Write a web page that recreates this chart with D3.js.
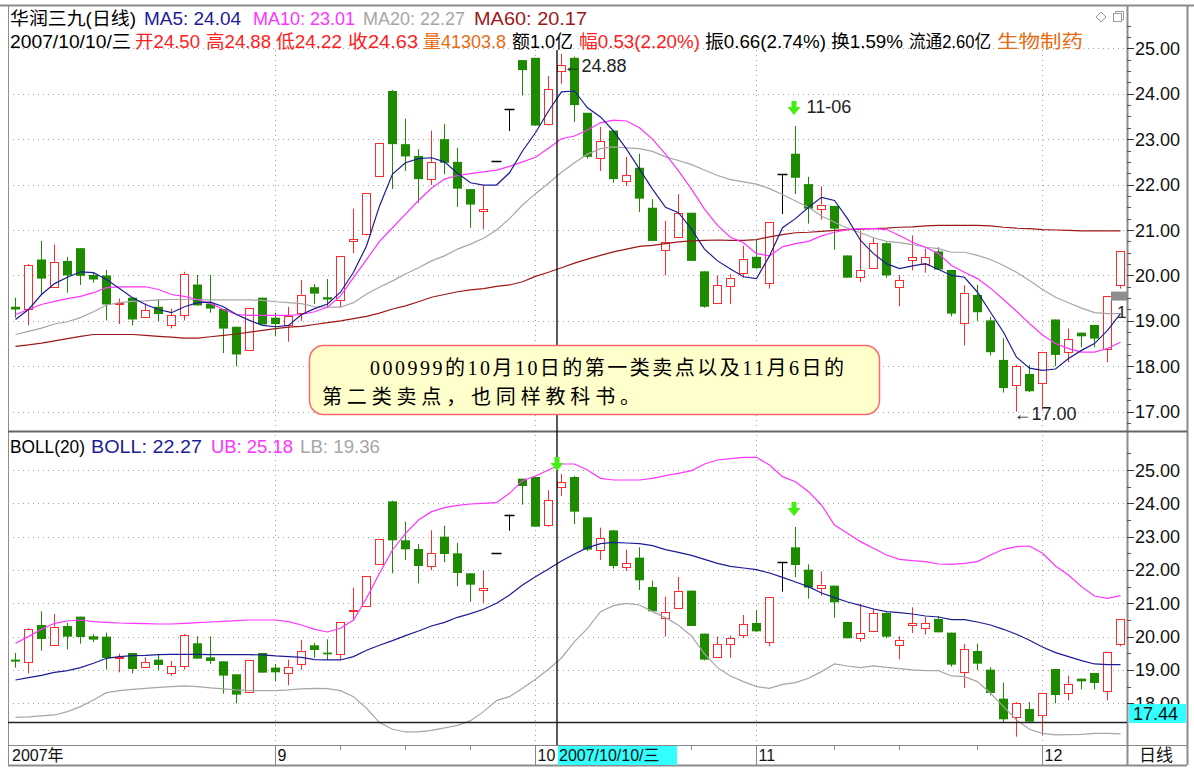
<!DOCTYPE html>
<html><head><meta charset="utf-8">
<script src="https://cdn.jsdelivr.net/npm/d3@7/dist/d3.min.js"></script>
<style>
body{margin:0;background:#fff;}
svg{display:block;font-family:"Liberation Sans",Arial,"Noto Sans CJK SC",sans-serif;}
</style>
</head><body>
<svg id="c" width="1194" height="774"></svg>
<script>
// ---------------- DATA ----------------
const openP  = [19.31,19.25,20.35,19.75,20.32,20.60,20.01,20.00,19.38,19.51,19.09,19.31,18.90,19.12,19.80,19.38,19.26,18.87,18.35,19.51,
                19.07,18.90,19.17,19.74,19.52,19.47,20.76,20.91,22.19,24.06,22.89,22.63,22.12,23.00,22.50,21.90,21.41,22.52,23.66,24.74,
                24.79,23.34,24.50,24.79,23.58,22.59,23.19,22.08,22.37,21.49,20.56,20.85,21.38,20.09,19.39,19.77,20.06,20.41,19.84,22.23,
                22.68,22.01,21.47,21.53,20.44,19.96,20.17,20.71,19.74,20.35,20.26,20.53,20.12,18.95,19.57,19.01,18.14,17.59,17.83,17.64,
                19.03,18.31,18.74,18.91,18.37,19.79];
const highP  = [19.51,20.25,20.76,20.68,20.41,20.60,20.07,20.12,19.49,19.51,19.38,19.47,19.27,20.08,20.01,20.01,19.26,18.87,19.29,19.51,
                19.18,19.31,19.90,19.81,19.92,20.43,21.47,21.82,22.92,24.08,23.45,22.78,23.19,23.33,22.81,21.90,21.99,22.52,23.66,24.74,
                24.79,24.39,24.88,24.82,23.58,23.27,23.19,22.61,22.68,21.68,21.20,21.79,21.38,20.09,20.00,20.03,20.65,20.80,21.18,22.23,
                23.29,22.17,21.96,21.53,20.44,20.99,20.84,20.73,20.01,20.88,20.59,20.62,20.12,19.78,19.79,19.08,18.62,18.03,18.03,18.31,
                19.03,18.83,18.74,18.91,19.55,20.53];
const lowP   = [19.07,18.90,19.58,19.73,19.62,19.79,19.84,19.01,18.93,18.90,19.07,18.99,18.83,19.01,19.34,19.18,18.29,18.00,18.35,18.92,
                18.66,18.54,19.00,19.37,19.30,19.30,20.49,20.88,22.17,21.90,22.30,21.60,21.99,22.23,21.51,21.05,21.02,22.52,23.18,23.96,
                23.30,23.30,24.22,23.38,22.57,22.30,22.04,21.97,21.40,20.76,20.00,20.83,20.32,19.29,19.37,19.37,19.95,20.14,19.71,21.35,
                21.79,21.14,21.23,20.57,19.95,19.85,20.15,19.95,19.32,20.11,20.06,20.13,19.10,18.46,19.00,18.24,17.42,17.00,17.43,17.05,
                18.00,18.09,18.42,18.42,18.09,19.71];
const closeP = [19.25,20.22,19.93,20.30,20.00,19.99,19.91,19.36,19.40,19.03,19.24,19.15,19.12,20.04,19.34,19.27,18.83,18.26,19.29,18.92,
                18.93,19.10,19.58,19.60,19.47,20.43,20.80,21.82,22.92,22.89,22.62,22.12,22.50,22.48,21.91,21.56,21.46,22.52,23.66,24.52,
                23.30,24.10,24.63,23.75,22.61,22.96,22.12,22.20,21.69,20.76,20.74,21.38,20.32,19.31,19.78,19.95,20.37,20.16,21.18,22.23,
                22.15,21.47,21.56,21.03,19.95,20.11,20.71,20.00,19.89,20.40,20.40,20.13,19.16,19.62,19.19,18.31,17.52,18.00,17.45,18.31,
                18.25,18.59,18.66,18.61,19.55,20.53];
const ma5  = [19.03,19.25,19.58,19.82,19.96,20.08,20.06,19.91,19.71,19.51,19.36,19.25,19.18,19.31,19.40,19.41,19.31,19.14,19.01,18.90,
              18.87,18.90,19.14,19.27,19.37,19.63,20.07,20.65,21.53,22.23,22.48,22.57,22.59,22.50,22.25,22.04,21.99,21.99,22.26,22.74,
              23.14,23.62,24.04,24.06,23.69,23.49,23.18,22.78,22.34,21.90,21.50,21.38,21.02,20.58,20.32,20.14,19.97,19.93,20.43,21.05,
              21.25,21.50,21.72,21.65,21.25,20.77,20.48,20.26,20.15,20.21,20.26,20.13,20.00,19.96,19.63,19.19,18.75,18.20,17.96,17.91,
              17.94,18.17,18.35,18.50,18.79,19.16];
const ma10 = [19.14,19.25,19.36,19.43,19.49,19.54,19.62,19.73,19.75,19.75,19.75,19.69,19.58,19.54,19.47,19.38,19.25,19.14,19.12,19.12,
              19.12,19.12,19.14,19.20,19.30,19.55,19.95,20.35,20.75,21.05,21.35,21.65,21.92,22.12,22.20,22.24,22.28,22.32,22.40,22.50,
              22.60,22.80,23.01,23.07,23.20,23.36,23.42,23.40,23.25,23.00,22.67,22.30,21.90,21.46,21.10,20.84,20.72,20.48,20.43,20.63,
              20.70,20.75,20.87,20.95,21.01,21.03,21.03,21.01,20.88,20.73,20.62,20.48,20.22,20.07,19.93,19.72,19.47,19.21,18.94,18.69,
              18.50,18.39,18.31,18.31,18.39,18.53];
const ma20 = [18.70,18.77,18.84,18.93,18.98,19.07,19.20,19.35,19.40,19.43,19.44,19.46,19.47,19.47,19.47,19.46,19.46,19.46,19.46,19.45,
              19.42,19.40,19.38,19.31,19.30,19.30,19.40,19.59,19.74,19.88,20.03,20.17,20.32,20.43,20.58,20.69,20.82,21.00,21.25,21.55,
              21.80,22.03,22.27,22.48,22.67,22.79,22.83,22.81,22.79,22.73,22.61,22.53,22.44,22.32,22.20,22.11,22.06,22.01,21.91,21.78,
              21.64,21.50,21.31,21.17,21.04,20.94,20.83,20.75,20.72,20.68,20.62,20.59,20.51,20.51,20.44,20.35,20.22,20.07,19.89,19.69,
              19.52,19.40,19.28,19.18,19.16,19.16];
const ma60 = [18.44,18.47,18.51,18.56,18.61,18.66,18.70,18.70,18.70,18.70,18.68,18.66,18.64,18.62,18.62,18.65,18.68,18.71,18.75,18.79,
              18.83,18.86,18.88,18.92,18.96,19.00,19.05,19.10,19.17,19.26,19.33,19.42,19.52,19.58,19.64,19.68,19.71,19.76,19.79,19.86,
              19.98,20.07,20.17,20.27,20.36,20.44,20.52,20.58,20.64,20.66,20.70,20.74,20.76,20.77,20.78,20.77,20.77,20.79,20.85,20.90,
              20.94,20.95,20.97,20.99,21.01,21.02,21.03,21.04,21.06,21.07,21.09,21.10,21.10,21.10,21.10,21.09,21.06,21.04,21.03,21.01,
              21.00,20.99,20.98,20.98,20.98,20.98];
const bollMid = ma20;
const bollUB = [19.80,20.00,20.22,20.40,20.47,20.50,20.45,20.43,20.41,20.40,20.39,20.38,20.38,20.40,20.42,20.44,20.46,20.48,20.50,20.50,
                20.50,20.45,20.35,20.22,20.14,20.25,20.50,21.15,21.90,22.60,23.10,23.50,23.75,23.87,23.94,23.98,24.00,24.02,24.30,24.68,
                24.82,25.00,25.18,25.18,25.00,24.75,24.70,24.70,24.70,24.75,24.83,24.90,24.98,25.18,25.30,25.34,25.38,25.38,25.15,24.80,
                24.65,24.35,23.95,23.35,23.10,22.85,22.65,22.45,22.32,22.28,22.25,22.18,22.17,22.20,22.25,22.45,22.62,22.70,22.72,22.50,
                22.12,21.85,21.50,21.22,21.15,21.23];
const bollLB = [17.58,17.59,17.62,17.65,17.75,17.90,18.10,18.32,18.38,18.42,18.45,18.48,18.50,18.52,18.50,18.46,18.43,18.40,18.38,18.38,
                18.38,18.40,18.43,18.45,18.44,18.38,18.20,17.85,17.42,17.22,17.14,17.14,17.19,17.26,17.34,17.48,17.75,18.08,18.20,18.45,
                18.72,19.02,19.36,19.85,20.25,20.75,20.93,21.00,20.95,20.75,20.57,20.34,20.02,19.48,19.07,18.82,18.65,18.50,18.45,18.57,
                18.62,18.75,18.95,19.18,19.12,19.07,19.12,19.08,19.04,19.00,18.98,18.98,18.82,18.80,18.65,18.30,17.90,17.50,17.22,17.10,
                17.05,17.06,17.07,17.10,17.10,17.08];
const monthLabels = ["2007年","9","10","11","12"];
const monthIdx    = [0,20,40,57,79];
const weekIdx     = [25,30,35,47,52,63,68,74];
const topTicks    = [17,18,19,20,21,22,23,24,25];
const botTicks    = [18,19,20,21,22,23,24,25];
const header1 = ["华润三九(日线)","MA5: 24.04","MA10: 23.01","MA20: 22.27","MA60: 20.17"];
const header2 = ["2007/10/10/三","开24.50","高24.88","低24.22","收24.63","量41303.8","额1.0亿","幅0.53(2.20%)","振0.66(2.74%)","换1.59%","流通2.60亿","生物制药"];
const header3 = ["BOLL(20)","BOLL: 22.27","UB: 25.18","LB: 19.36"];
const selIdx = 42, sellIdx = 60, lowIdx = 77;
const selDate = "2007/10/10/三", crossValue = 17.44;
const noteLines = ["000999的10月10日的第一类卖点以及11月6日的","第二类卖点，也同样教科书。"];

// ---------------- LAYOUT / STYLE ----------------
const N = closeP.length;
const L = 8, R = 1127, AX = 1187;
const topY0 = 6, topY1 = 431, botY1 = 745, axY1 = 765;
const C = {up:"#ff2a2a", down:"#1e8a00", flat:"#000", ma5:"#1c1c96", ma10:"#ff33ff", ma20:"#a6a6a6", ma60:"#9c1818",
           grid:"#a0a0a0", frame:"#8c8c8c", red:"#ff2020", orange:"#e86a10", arrow:"#44ee11"};
const h1x = [[10,136],[144,241],[253,355],[363,465],[474,587]], h1c = ["#000",C.ma5,C.ma10,C.ma20,C.ma60];
const h2x = [[10,131],[135,200],[206,271],[276,342],[348,418],[423,506],[512,573],[579,700],[705,826],[831,903],[909,991],[997,1083]];
const h2c = ["#000",C.red,C.red,C.red,C.red,C.orange,"#000",C.red,"#000","#000","#000",C.orange];
const h3x = [[10,85],[91,202],[211,293],[300,380]], h3c = ["#000",C.ma5,C.ma10,C.ma20];

const svg = d3.select("#c");
const x = d3.scaleBand().domain(d3.range(N)).range([L, L + 13*N]);
const xc = i => Math.round(x(i) + x.bandwidth()/2) + 0.5;
const yT = d3.scaleLinear().domain([17,25]).range([411.7,48.3]);
const yB = d3.scaleLinear().domain([18,25]).range([703.3,470]);

const defs = svg.append("defs");
defs.append("clipPath").attr("id","clipT").append("rect").attr("x",L).attr("y",topY0).attr("width",R-L).attr("height",topY1-topY0);
defs.append("clipPath").attr("id","clipB").append("rect").attr("x",L).attr("y",topY1+1).attr("width",R-L).attr("height",botY1-topY1-1);
defs.append("clipPath").attr("id","clipAxB").append("rect").attr("x",R).attr("y",topY1+1).attr("width",AX-R).attr("height",yB(crossValue)-18-topY1-1);

// frame
svg.append("line").attr("x1",0).attr("x2",1194).attr("y1",5.5).attr("y2",5.5).attr("stroke",C.frame).attr("stroke-width",2);
svg.append("line").attr("x1",L+0.5).attr("x2",L+0.5).attr("y1",5).attr("y2",axY1).attr("stroke",C.frame);
svg.append("line").attr("x1",R+0.5).attr("x2",R+0.5).attr("y1",5).attr("y2",axY1).attr("stroke",C.frame).attr("stroke-width",2);
svg.append("line").attr("x1",AX+0.5).attr("x2",AX+0.5).attr("y1",5).attr("y2",axY1).attr("stroke",C.frame).attr("stroke-width",2);
svg.append("line").attr("x1",L).attr("x2",AX).attr("y1",topY1+0.5).attr("y2",topY1+0.5).attr("stroke","#666").attr("stroke-width",2);
svg.append("line").attr("x1",L).attr("x2",AX).attr("y1",botY1+0.5).attr("y2",botY1+0.5).attr("stroke","#888");
svg.append("line").attr("x1",L).attr("x2",AX).attr("y1",axY1+0.5).attr("y2",axY1+0.5).attr("stroke",C.frame).attr("stroke-width",2);

// horizontal grid
function hgrid(ticks, y) {
  svg.append("g").selectAll("line").data(ticks).join("line")
    .attr("x1",L).attr("x2",R).attr("y1",d=>Math.round(y(d))+0.5).attr("y2",d=>Math.round(y(d))+0.5)
    .attr("stroke",C.grid).attr("stroke-dasharray","1,4");
}
hgrid(topTicks, yT);
hgrid(botTicks, yB);
// vertical month grid
svg.append("g").selectAll("line").data(monthIdx.slice(1)).join("line")
  .attr("x1",d=>xc(d)).attr("x2",d=>xc(d)).attr("y1",50).attr("y2",botY1)
  .attr("stroke",C.grid).attr("stroke-dasharray","1,4");

// right axes
function raxis(ticks, y, minorStep, lo, hi, clip) {
  const g = svg.append("g");
  if (clip) g.attr("clip-path",`url(#${clip})`);
  const minors = d3.range(lo, hi + 1e-9, minorStep);
  g.selectAll("line.mn").data(minors).join("line").attr("class","mn")
    .attr("x1",R).attr("x2",R+4).attr("y1",d=>Math.round(y(d))+0.5).attr("y2",d=>Math.round(y(d))+0.5).attr("stroke","#555");
  g.selectAll("line.mj").data(ticks).join("line").attr("class","mj")
    .attr("x1",R).attr("x2",R+7).attr("y1",d=>Math.round(y(d))+0.5).attr("y2",d=>Math.round(y(d))+0.5).attr("stroke","#333");
  g.selectAll("text").data(ticks).join("text")
    .attr("x",R+8).attr("y",d=>y(d)+6.5).attr("font-size",18).attr("fill","#111").text(d=>d.toFixed(2));
}
raxis(topTicks, yT, 0.25, 16.75, 25.5, null);
raxis(botTicks, yB, 0.5, 17.5, 25.5, "clipAxB");

// candles
function candles(y, clip) {
  const g = svg.append("g").attr("clip-path",`url(#${clip})`);
  d3.range(N).forEach(i => {
    const o=openP[i], c=closeP[i], h=highP[i], l=lowP[i], cx=xc(i);
    if (c > o) {
      g.append("line").attr("x1",cx).attr("x2",cx).attr("y1",y(h)).attr("y2",y(c)).attr("stroke",C.up);
      g.append("line").attr("x1",cx).attr("x2",cx).attr("y1",y(o)).attr("y2",y(l)).attr("stroke",C.up);
      g.append("rect").attr("x",cx-4).attr("y",Math.round(y(c))+0.5).attr("width",8)
        .attr("height",Math.max(1,Math.round(y(o))-Math.round(y(c)))).attr("fill","#fff").attr("stroke",C.up);
    } else if (c < o) {
      g.append("line").attr("x1",cx).attr("x2",cx).attr("y1",y(h)).attr("y2",y(l)).attr("stroke",C.down);
      g.append("rect").attr("x",cx-4.5).attr("y",y(o)).attr("width",9)
        .attr("height",Math.max(1.5,y(c)-y(o))).attr("fill",C.down);
    } else {
      g.append("line").attr("x1",cx).attr("x2",cx).attr("y1",y(h)).attr("y2",y(l)).attr("stroke",C.flat);
      g.append("line").attr("x1",cx-5).attr("x2",cx+5).attr("y1",Math.round(y(o))+0.5).attr("y2",Math.round(y(o))+0.5).attr("stroke",C.flat).attr("stroke-width",1.5);
    }
  });
}
function lines(series, colors, y, clip) {
  const g = svg.append("g").attr("clip-path",`url(#${clip})`);
  series.forEach((s,k) => {
    g.append("path").datum(s).attr("fill","none").attr("stroke",colors[k]).attr("stroke-width",1.2)
      .attr("d", d3.line().x((d,i)=>xc(i)).y(d=>y(d)));
  });
}
candles(yT,"clipT");
lines([ma60,ma20,ma10,ma5],[C.ma60,C.ma20,C.ma10,C.ma5], yT, "clipT");
candles(yB,"clipB");
lines([bollLB,bollUB,bollMid],[C.ma20,C.ma10,C.ma5], yB, "clipB");

// crosshair
const crossX = xc(selIdx) - 4.5;
svg.append("line").attr("x1",crossX).attr("x2",crossX).attr("y1",50).attr("y2",botY1).attr("stroke","#000").attr("stroke-width",1.3);
svg.append("line").attr("x1",L).attr("x2",R).attr("y1",Math.round(yB(crossValue))+0.5).attr("y2",Math.round(yB(crossValue))+0.5).attr("stroke","#222").attr("stroke-width",1.3);
svg.append("rect").attr("x",R+2).attr("y",yB(crossValue)-18).attr("width",AX-R-3).attr("height",19).attr("fill","#33ffff");
svg.append("text").attr("x",R+6).attr("y",yB(crossValue)-2).attr("font-size",18).attr("fill","#111").text(crossValue.toFixed(2));

// last value tag (partially hidden)
const gt = svg.append("g").attr("clip-path","url(#clipT)");
gt.append("rect").attr("x",R-16).attr("y",yT(ma20[N-1])-22).attr("width",16).attr("height",9).attr("fill","#8e8e8e");
gt.append("text").attr("x",R-10).attr("y",yT(ma20[N-1])+4).attr("font-size",17).attr("fill","#222").text("19");

// arrows
function arrow(cx, tipY) {
  svg.append("path").attr("fill",C.arrow)
    .attr("d",`M${cx-2.5},${tipY-14}h5v6h4l-6.5,8l-6.5,-8h4z`);
}
arrow(xc(sellIdx)-1.5, yT(highP[sellIdx]) - 11);
arrow(crossX, yB(25) + 1);
arrow(xc(sellIdx)-1.5, yB(highP[sellIdx]) - 11);
svg.append("text").attr("x",xc(sellIdx)+11).attr("y",yT(highP[sellIdx])-13).attr("font-size",18).attr("fill","#222").text("11-06");
svg.append("text").attr("x",xc(selIdx)+2).attr("y",yT(highP[selIdx])+18).attr("font-size",18).attr("fill","#222").text("←" + highP[selIdx].toFixed(2));
svg.append("text").attr("x",xc(lowIdx)-3).attr("y",yT(lowP[lowIdx])+8).attr("font-size",18).attr("fill","#222").text("←" + lowP[lowIdx].toFixed(2));

// note box
svg.append("rect").attr("x",309.5).attr("y",345.5).attr("width",570).attr("height",69).attr("rx",14)
  .attr("fill","#ffffcc").attr("stroke","#ff6a6a").attr("stroke-width",1.5);
svg.append("text").attr("x",370).attr("y",375).attr("font-size",20).attr("font-family",'"Liberation Serif","Noto Sans CJK SC",serif')
  .attr("textLength",474).attr("lengthAdjust","spacing").text(noteLines[0]);
svg.append("text").attr("x",322).attr("y",404).attr("font-size",20).attr("font-family",'"Liberation Serif","Noto Sans CJK SC",serif')
  .attr("textLength",318).attr("lengthAdjust","spacing").text(noteLines[1]);

// headers
function header(texts, xs, cols, y) {
  svg.append("g").selectAll("text").data(texts).join("text")
    .attr("x",(d,i)=>xs[i][0]).attr("y",y).attr("font-size",18.5).attr("fill",(d,i)=>cols[i])
    .attr("textLength",(d,i)=>xs[i][1]-xs[i][0]).attr("lengthAdjust","spacingAndGlyphs").text(d=>d);
}
header(header1, h1x, h1c, 25);
header(header2, h2x, h2c, 48);
header(header3, h3x, h3c, 453);

// window icons
svg.append("path").attr("d","M1101,12l5,5l-5,5l-5,-5z").attr("fill","none").attr("stroke","#999");
svg.append("rect").attr("x",1113.5).attr("y",13.5).attr("width",8).attr("height",8).attr("fill","none").attr("stroke","#999");
svg.append("path").attr("d","M1115.5,13.5v-2h8v8h-2").attr("fill","none").attr("stroke","#999");

// x axis
const gx = svg.append("g");
gx.selectAll("line.m").data(monthIdx.slice(1)).join("line").attr("class","m")
  .attr("x1",d=>xc(d)).attr("x2",d=>xc(d)).attr("y1",botY1).attr("y2",axY1).attr("stroke","#888");
gx.selectAll("line.w").data(weekIdx).join("line").attr("class","w")
  .attr("x1",d=>xc(d)).attr("x2",d=>xc(d)).attr("y1",botY1).attr("y2",botY1+5).attr("stroke","#888");
gx.append("rect").attr("x",crossX+1).attr("y",botY1+1).attr("width",119).attr("height",axY1-botY1-1).attr("fill","#33ffff");
gx.selectAll("text.m").data(monthLabels).join("text").attr("class","m")
  .attr("x",(d,i)=> i===0 ? L+4 : xc(monthIdx[i])+2).attr("y",axY1-4).attr("font-size",16).attr("fill","#111").text(d=>d);
gx.append("text").attr("x",crossX+2).attr("y",axY1-4).attr("font-size",16).attr("fill","#111").text(selDate);
gx.append("text").attr("x",R+12).attr("y",axY1-4).attr("font-size",17).attr("fill","#111").text("日线");
</script>
</body></html>
